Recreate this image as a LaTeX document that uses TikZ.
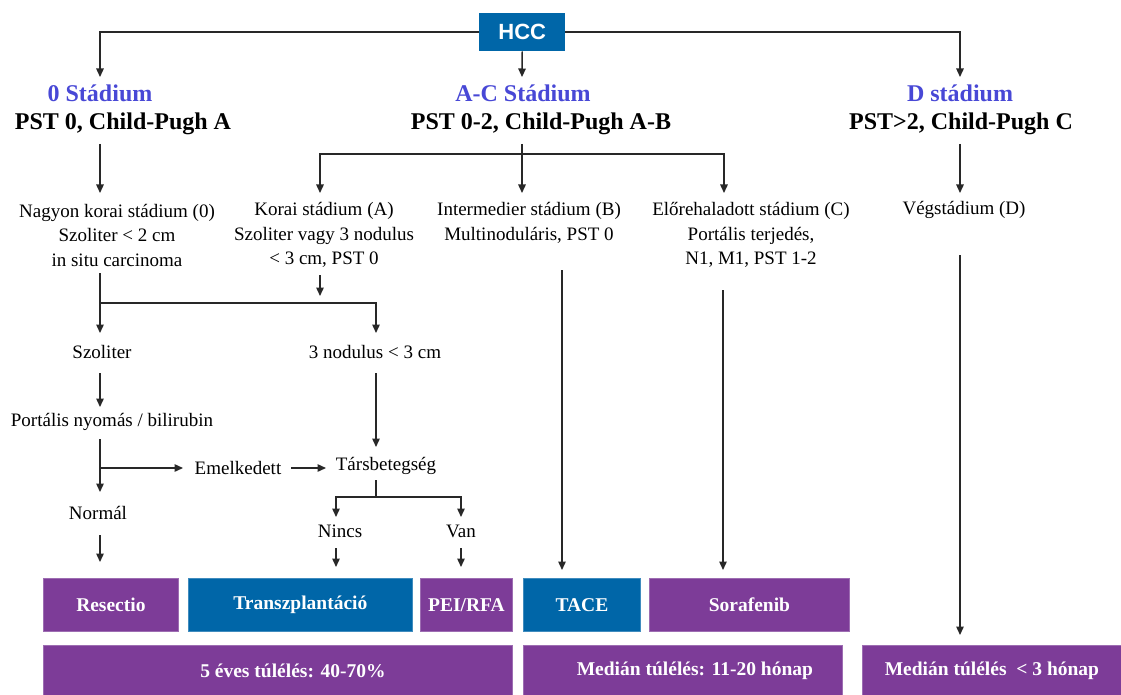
\documentclass[tikz,border=0pt]{standalone}
\usepackage{fontspec}
\setmainfont{Liberation Serif}
\newfontfamily\hccfont{Liberation Sans}
\usetikzlibrary{arrows.meta}
\definecolor{lila}{RGB}{125,60,152}
\definecolor{kek}{RGB}{0,102,168}
\definecolor{stagec}{RGB}{72,72,214}
\definecolor{linec}{RGB}{40,40,40}
\begin{document}
\begin{tikzpicture}[x=1pt,y=-1pt,
  conn/.style={draw=linec,line width=1.4pt},
  arr/.style={draw=linec,line width=1.4pt,-{Triangle[length=8.5pt,width=7.5pt]}},
  txt/.style={font=\fontsize{19}{24.5}\selectfont,align=center,inner sep=0pt},
  stg/.style={font=\fontsize{24}{28}\selectfont\bfseries,text=stagec,inner sep=0pt},
  hd/.style={font=\fontsize{24}{28}\selectfont\bfseries,inner sep=0pt},
  box/.style={fill=#1,draw=#1!75!white,line width=0.8pt,text=white,font=\fontsize{19.5}{23}\selectfont\bfseries,inner sep=0pt,anchor=north west}]
\useasboundingbox (0,0) rectangle (1121,695);
\fill[white] (0,0) rectangle (1121,695);

% top box
\node[fill=kek,text=white,font=\hccfont\fontsize{22}{26}\selectfont\bfseries,inner sep=0pt,
      minimum width=86pt,minimum height=38pt,anchor=north west] (hcc) at (479,13) {HCC};

% stage headings
\node[stg] (s0) at (100,93) {0 Stádium};
\node[stg] (sac) at (523,93) {A-C Stádium};
\node[stg] (sd) at (960,93) {D stádium};
\node[hd] (p0) at (123,124) {PST 0, Child-Pugh A};
\node[hd] (pac) at (541,124) {PST 0-2, Child-Pugh A-B};
\node[hd] (pd) at (961,124) {PST>2, Child-Pugh C};

% sub stages
\node[txt] (n0) at (117,235) {Nagyon korai stádium (0)\\Szoliter < 2 cm\\in situ carcinoma};
\node[txt] (kor) at (324,235) {Korai stádium (A)\\Szoliter vagy 3 nodulus\\< 3 cm, PST 0};
\node[txt] (intm) at (529,223) {Intermedier stádium (B)\\Multinoduláris, PST 0};
\node[txt] (elo) at (751,235) {Előrehaladott stádium (C)\\Portális terjedés,\\N1, M1, PST 1-2};
\node[txt] (veg) at (964,210) {Végstádium (D)};

\node[txt] (sz) at (102,352) {Szoliter};
\node[txt] (nod) at (375,352) {3 nodulus < 3 cm};
\node[txt] (port) at (112,422) {Portális nyomás / bilirubin};
\node[txt] (emel) at (238,468) {Emelkedett};
\node[txt] (tars) at (386,466) {Társbetegség};
\node[txt] (norm) at (98,513) {Normál};
\node[txt] (nin) at (340,531) {Nincs};
\node[txt] (van) at (461,531) {Van};

% treatment boxes
\node[box=lila,minimum width=135pt,minimum height=53pt] (res) at (43,578) {Resectio};
\node[box=kek,minimum width=224pt,minimum height=53pt] (tra) at (188,578) {Transzplantáció};
\node[box=lila,minimum width=92pt,minimum height=53pt] (pei) at (420,578) {PEI/RFA};
\node[box=kek,minimum width=117pt,minimum height=53pt] (tace) at (523,578) {TACE};
\node[box=lila,minimum width=200pt,minimum height=53pt] (sor) at (649,578) {Sorafenib};
\node[box=lila,minimum width=469pt,minimum height=50pt] (surv1) at (43,645) {\hspace*{30pt}5 éves túlélés: 40-70\%};
\node[box=lila,minimum width=319pt,minimum height=50pt] (surv2) at (523,645) {\hspace*{24pt}Medián túlélés: 11-20 hónap};
\node[box=lila,minimum width=259pt,minimum height=50pt] (surv3) at (862,645) {Medián túlélés \ < 3 hónap};

% coordinates
\coordinate (s0in) at (100,77);
\coordinate (sdin) at (960,77);
\coordinate (sacin) at (522,77);
\coordinate (p0out) at (100,144);
\coordinate (n0in) at (100,193);
\coordinate (pacout) at (522,144);
\coordinate (acj) at (522,154);
\coordinate (intin) at (522,193);
\coordinate (korin) at (320,193);
\coordinate (eloin) at (724,193);
\coordinate (pdout) at (960,144);
\coordinate (vegin) at (960,193);
\coordinate (korout) at (320,275);
\coordinate (korend) at (320,296);
\coordinate (n0out) at (100,273);
\coordinate (n0j) at (100,303);
\coordinate (szin) at (100,333);
\coordinate (nodin) at (376,333);
\coordinate (szout) at (100,373);
\coordinate (portin) at (100,407);
\coordinate (portout) at (100,439);
\coordinate (portj) at (100,468);
\coordinate (normin) at (100,492);
\coordinate (emelin) at (183,468);
\coordinate (emelout) at (291,468);
\coordinate (tarsin) at (326,468);
\coordinate (nodout) at (376,373);
\coordinate (tarsintop) at (376,447);
\coordinate (tarsout) at (376,480);
\coordinate (tj) at (376,497);
\coordinate (ninin) at (336,517);
\coordinate (vanin) at (461,517);
\coordinate (normout) at (100,535);
\coordinate (resin) at (100,562);
\coordinate (ninout) at (336,548);
\coordinate (train) at (336,567);
\coordinate (vanout) at (461,548);
\coordinate (peiin) at (461,567);
\coordinate (intout) at (562,270);
\coordinate (tacein) at (562,570);
\coordinate (eloout) at (723,290);
\coordinate (sorin) at (723,570);
\coordinate (vegout) at (960,255);
\coordinate (survin) at (960,635);

% connectors
\draw[arr] (hcc.west) -| (s0in);
\draw[arr] (hcc.east) -| (sdin);
\draw[arr] (hcc.south) -- (sacin);
\draw[arr] (p0out) -- (n0in);
\draw[arr] (pacout) -- (intin);
\draw[arr] (acj) -| (korin);
\draw[arr] (acj) -| (eloin);
\draw[arr] (pdout) -- (vegin);
\draw[arr] (korout) -- (korend);
\draw[arr] (n0out) -- (szin);
\draw[arr] (n0j) -| (nodin);
\draw[arr] (szout) -- (portin);
\draw[arr] (portout) -- (normin);
\draw[arr] (portj) -- (emelin);
\draw[arr] (emelout) -- (tarsin);
\draw[arr] (nodout) -- (tarsintop);
\draw[conn] (tarsout) -- (tj);
\draw[arr] (tj) -| (ninin);
\draw[arr] (tj) -| (vanin);
\draw[arr] (normout) -- (resin);
\draw[arr] (ninout) -- (train);
\draw[arr] (vanout) -- (peiin);
\draw[arr] (intout) -- (tacein);
\draw[arr] (eloout) -- (sorin);
\draw[arr] (vegout) -- (survin);
\end{tikzpicture}
\end{document}
